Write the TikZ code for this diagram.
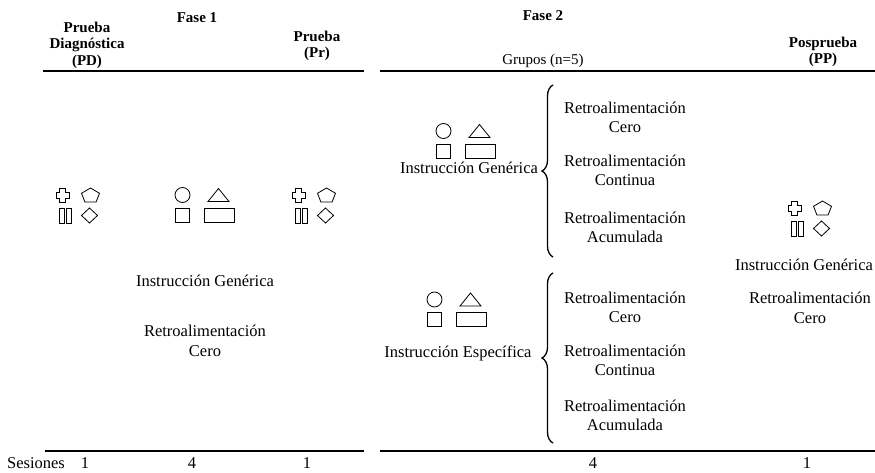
\documentclass[tikz,border=0pt]{standalone}
\usepackage{fontspec}
\setmainfont{Liberation Serif}
\usetikzlibrary{decorations.pathreplacing}
\tikzset{
  txt/.style={font=\fontsize{16.5}{19.5}\selectfont, align=center, inner sep=0pt},
  hdr/.style={font=\fontsize{15}{16.5}\selectfont\bfseries, align=center, inner sep=0pt},
  plain/.style={font=\fontsize{15}{16.5}\selectfont, align=center, inner sep=0pt},
  shp/.style={draw, line width=0.8pt},
  rulebar/.style={line width=2.4pt},
  brc/.style={decorate, decoration={brace, amplitude=11pt}, line width=1.3pt},
  pics/setA/.style={code={
    \draw[shp] (-17,-17) -- (-11,-17) -- (-11,-13) -- (-7.5,-13) -- (-7.5,-7) -- (-11,-7) -- (-11,-3)
      -- (-17,-3) -- (-17,-7) -- (-20.5,-7) -- (-20.5,-13) -- (-17,-13) -- cycle;
    \draw[shp] (14,-17) -- (23,-11.7) -- (19.6,-3) -- (8.4,-3) -- (5,-11.7) -- cycle;
    \draw[shp] (-16.75,3) rectangle (-12.25,18);
    \draw[shp] (-9.75,3) rectangle (-5.25,18);
    \draw[shp] (13,3) -- (21,10.5) -- (13,18) -- (5,10.5) -- cycle;
  }},
  pics/setB/.style={code={
    \draw[shp] (-18,-10) circle (7.5);
    \draw[shp] (7.5,-3.5) -- (28.5,-3.5) -- (18,-16.5) -- cycle;
    \draw[shp] (-25,3) rectangle (-11,17);
    \draw[shp] (3.5,3) rectangle (33.5,17);
  }},
}
\begin{document}
\begin{tikzpicture}[x=1pt,y=-1pt]
\useasboundingbox (0,0) rectangle (875,473);
% headers
\node[hdr] (pd) at (87,45) {Prueba\\Diagnóstica\\(PD)};
\node[hdr] (f1) at (197,18) {Fase 1};
\node[hdr] (pr) at (317,46) {Prueba\\(Pr)};
\node[hdr] (f2) at (543,16) {Fase 2};
\node[plain] (gr) at (543,61) {Grupos (n=5)};
\node[hdr] (pp) at (823,52) {Posprueba\\(PP)};
% rules
\coordinate (tl1) at (43,71); \coordinate (tl2) at (364,71);
\coordinate (tr1) at (380,71); \coordinate (tr2) at (875,71);
\coordinate (bl1) at (45,451); \coordinate (bl2) at (364,451);
\coordinate (br1) at (380,451); \coordinate (br2) at (875,451);
\draw[rulebar] (tl1) -- (tl2);
\draw[rulebar] (tr1) -- (tr2);
\draw[rulebar] (bl1) -- (bl2);
\draw[rulebar] (br1) -- (br2);
% shape groups
\pic at (76.5,205) {setA};
\pic at (200.5,205) {setB};
\pic at (312.5,205) {setA};
\pic at (808.5,218) {setA};
\pic at (461.5,141) {setB};
\pic at (452.5,309.5) {setB};
% phase 1 texts
\node[txt] (ig1) at (205,281) {Instrucción Genérica};
\node[txt] (rc1) at (205,341) {Retroalimentación\\Cero};
% phase 2 upper
\node[txt] (ig2) at (469,168) {Instrucción Genérica};
\coordinate (b1b) at (553,257); \coordinate (b1t) at (553,85);
\draw[brc] (b1b) -- (b1t);
\node[txt] (r21) at (625,117.5) {Retroalimentación\\Cero};
\node[txt] (r22) at (625,170.5) {Retroalimentación\\Continua};
\node[txt] (r23) at (625,227.5) {Retroalimentación\\Acumulada};
% phase 2 lower
\node[txt] (ie2) at (458,353) {Instrucción Específica};
\coordinate (b2b) at (553,443); \coordinate (b2t) at (553,273);
\draw[brc] (b2b) -- (b2t);
\node[txt] (r31) at (625,307.5) {Retroalimentación\\Cero};
\node[txt] (r32) at (625,360.5) {Retroalimentación\\Continua};
\node[txt] (r33) at (625,415.5) {Retroalimentación\\Acumulada};
% posttest
\node[txt] (ig3) at (804,265) {Instrucción Genérica};
\node[txt] (rc3) at (810,308) {Retroalimentación\\Cero};
% sessions
\node[txt] (ses) at (36,463) {Sesiones};
\node[txt] (s1) at (85,463) {1};
\node[txt] (s2) at (192,463) {4};
\node[txt] (s3) at (307,463) {1};
\node[txt] (s4) at (593,463) {4};
\node[txt] (s5) at (807,463) {1};
\end{tikzpicture}
\end{document}
